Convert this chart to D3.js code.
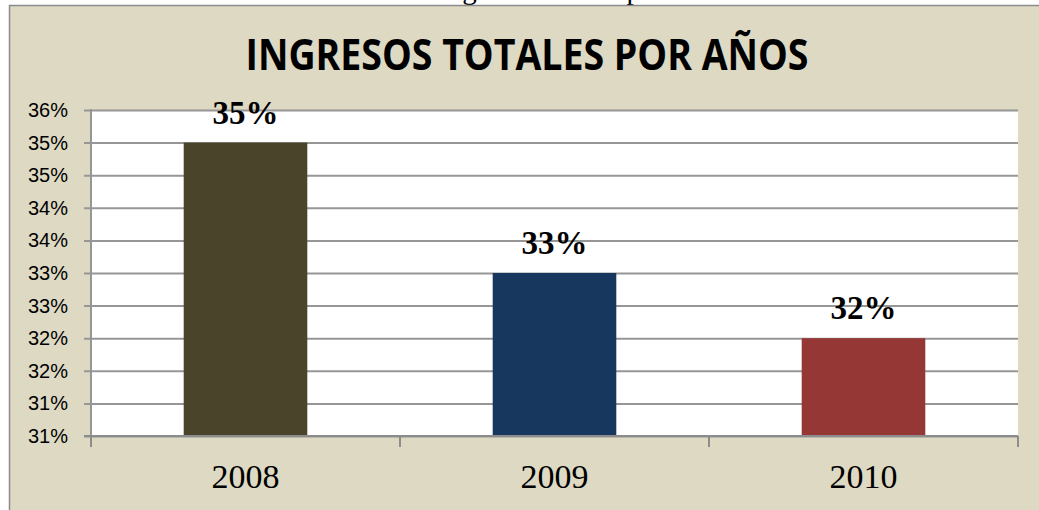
<!DOCTYPE html>
<html>
<head>
<meta charset="utf-8">
<script src="https://cdn.jsdelivr.net/npm/d3@7"></script>
<style>
body { margin:0; background:#fff; }
svg { display:block; }
</style>
</head>
<body>
<div id="chart"></div>
<script>
// data
const years = ["2008", "2009", "2010"]
const values = [0.35, 0.33, 0.32]
const valueLabels = ["35%", "33%", "32%"]
const barColors = ["#4a452a", "#17375e", "#953735"]
const yTicks = [0.305, 0.31, 0.315, 0.32, 0.325, 0.33, 0.335, 0.34, 0.345, 0.35, 0.355]
const yTickLabels = ["31%", "31%", "32%", "32%", "33%", "33%", "34%", "34%", "35%", "35%", "36%"]
const title = "INGRESOS TOTALES POR AÑOS"

const width = 1039
const height = 510
const plot = {left: 91, right: 1018, top: 110, bottom: 436}

const svg = d3.select("#chart").append("svg")
    .attr("width", width)
    .attr("height", height)

// caption text cut off above the chart frame
svg.append("text")
   .attr("x", 438)
   .attr("y", -1)
   .attr("font-family", "Liberation Serif, Times New Roman, serif")
   .attr("font-size", 29)
   .attr("fill", "#000")
   .text("Ingresos totales por años")

// frame
svg.append("rect")
   .attr("x", 9.5).attr("y", 5.5)
   .attr("width", width).attr("height", height)
   .attr("fill", "#ddd9c3")
   .attr("stroke", "#8c8c8c")
   .attr("stroke-width", 1.5)

svg.append("text")
   .attr("x", 527)
   .attr("y", 70)
   .attr("text-anchor", "middle")
   .attr("font-family", "Open Sans, sans-serif")
   .attr("font-weight", "bold")
   .attr("font-size", 43)
   .attr("textLength", 563)
   .attr("lengthAdjust", "spacingAndGlyphs")
   .attr("fill", "#000")
   .text(title)

const y = d3.scaleLinear()
    .domain([0.305, 0.355])
    .range([plot.bottom, plot.top])

const x = d3.scaleBand()
    .domain(years)
    .range([plot.left, plot.right])
    .paddingInner(0.6)
    .paddingOuter(0.3)

// plot area
svg.append("rect")
   .attr("x", plot.left).attr("y", plot.top)
   .attr("width", plot.right - plot.left)
   .attr("height", plot.bottom - plot.top)
   .attr("fill", "#fff")

// y axis with gridlines
const yAxis = svg.append("g")
    .attr("transform", `translate(${plot.left},0)`)
    .call(d3.axisLeft(y)
        .tickValues(yTicks)
        .tickFormat((d, i) => yTickLabels[i])
        .tickSize(-(plot.right - plot.left))
        .tickPadding(23))
yAxis.select(".domain").remove()
yAxis.selectAll(".tick line")
     .attr("x1", -7)
     .attr("stroke", "#969696")
     .attr("stroke-width", 2)
yAxis.selectAll(".tick text")
     .attr("font-family", "Liberation Sans, Arial, sans-serif")
     .attr("font-size", 20)
     .attr("fill", "#000")

svg.append("line")
   .attr("x1", plot.left).attr("x2", plot.left)
   .attr("y1", plot.top - 1).attr("y2", plot.bottom)
   .attr("stroke", "#969696")
   .attr("stroke-width", 2)

// bars
svg.append("g")
   .selectAll("rect")
   .data(years)
   .enter()
   .append("rect")
   .attr("x", d => x(d))
   .attr("y", (d, i) => y(values[i]))
   .attr("width", x.bandwidth())
   .attr("height", (d, i) => plot.bottom - y(values[i]))
   .attr("fill", (d, i) => barColors[i])

// value labels
svg.append("g")
   .selectAll("text")
   .data(years)
   .enter()
   .append("text")
   .attr("x", d => x(d) + x.bandwidth() / 2)
   .attr("y", (d, i) => y(values[i]) - 19)
   .attr("text-anchor", "middle")
   .attr("font-family", "Liberation Serif, Times New Roman, serif")
   .attr("font-weight", "bold")
   .attr("font-size", 33)
   .attr("fill", "#000")
   .text((d, i) => valueLabels[i])

// x axis
const step = x.step()
const boundaries = d3.range(years.length + 1).map(i => plot.left + i * step)
svg.append("line")
   .attr("x1", plot.left - 7).attr("x2", plot.right)
   .attr("y1", plot.bottom).attr("y2", plot.bottom)
   .attr("stroke", "#8c8c8c")
   .attr("stroke-width", 2)
svg.append("g")
   .selectAll("line")
   .data(boundaries)
   .enter()
   .append("line")
   .attr("x1", d => d).attr("x2", d => d)
   .attr("y1", plot.bottom).attr("y2", plot.bottom + 11)
   .attr("stroke", "#8c8c8c")
   .attr("stroke-width", 2)

svg.append("g")
   .selectAll("text")
   .data(years)
   .enter()
   .append("text")
   .attr("x", d => x(d) + x.bandwidth() / 2)
   .attr("y", 488)
   .attr("text-anchor", "middle")
   .attr("font-family", "Liberation Serif, Times New Roman, serif")
   .attr("font-size", 34)
   .attr("fill", "#000")
   .text(d => d)
</script>
</body>
</html>
